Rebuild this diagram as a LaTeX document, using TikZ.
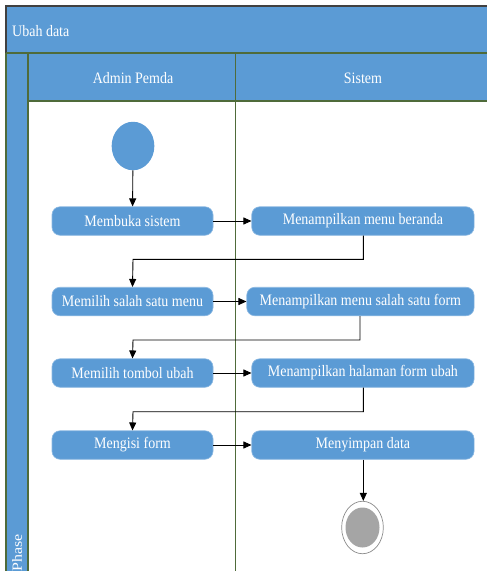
\documentclass[tikz,border=0pt]{standalone}
\usepackage{fontspec}
\setmainfont{Liberation Serif}
\usepackage{graphicx}
\usetikzlibrary{arrows.meta,shapes.geometric}
\definecolor{bl}{HTML}{5B9BD5}
\definecolor{gl}{HTML}{4F6B3A}
\definecolor{endgray}{HTML}{A5A5A5}
\newcommand{\vs}[1]{\scalebox{1}[1.14]{#1}}
\begin{document}
\begin{tikzpicture}[x=1pt,y=-1pt,
  act/.style={rectangle, rounded corners=8pt, fill=bl, draw=bl!70!white, line width=0.6pt,
    text=white, font=\fontsize{14}{16}\selectfont, minimum height=28.5pt, inner sep=0pt},
  hdr/.style={text=white, font=\fontsize{14}{16}\selectfont, inner sep=0pt},
  flow/.style={draw=black, line width=0.9pt, -{Triangle[length=8pt,width=7pt]}},
  frame/.style={draw=gl, line width=1.1pt}]
\useasboundingbox (0,0) rectangle (487,571);
% title band
\fill[bl] (6,6) rectangle (490,53);
\draw[line width=1.3pt, black!75] (490,6) -- (6,6) -- (6,53);
\node[hdr, anchor=west] (title) at (12,31) {\vs{Ubah data}};
% phase strip
\fill[bl] (6,53) rectangle (28,575);
% lane headers
\fill[bl] (28,53) rectangle (490,101);
\fill[white] (28,101) rectangle (490,575);
\draw[frame] (6,53) -- (490,53);
\draw[frame] (6,53) -- (6,575);
\draw[frame] (28,53) -- (28,575);
\draw[frame] (28,101) -- (490,101);
\draw[line width=0.8pt, draw=gl] (235,53) -- (235,575);
\node[hdr] (lane1) at (133,78) {\vs{Admin Pemda}};
\node[hdr] (lane2) at (363,78) {\vs{Sistem}};
\node[hdr, rotate=90, anchor=west] (phase) at (17,572) {\scalebox{1.14}[1]{Phase}};
% start / end
\node[ellipse, fill=bl, minimum width=42.7pt, minimum height=48.5pt, inner sep=0pt] (start) at (133,146) {};
\node[ellipse, fill=white, draw=black!45, line width=0.7pt, minimum width=41.7pt, minimum height=52.5pt, inner sep=0pt] (end) at (362.5,527.5) {};
\node[ellipse, fill=endgray, minimum width=34pt, minimum height=40pt, inner sep=0pt] (endin) at (end.center) {};
% activities
\node[act, minimum width=161pt] (a1) at (132.5,221) {\vs{Membuka sistem}};
\node[act, minimum width=222.3pt] (b1) at (362.9,221) {\vs{Menampilkan menu beranda}};
\node[act, minimum width=161pt] (a2) at (132.5,301.5) {\vs{Memilih salah satu menu}};
\node[act, minimum width=227.3pt] (b2) at (360.4,301.5) {\vs{Menampilkan menu salah satu form}};
\node[act, minimum width=161pt] (a3) at (132.5,373) {\vs{Memilih tombol ubah}};
\node[act, minimum width=222.3pt] (b3) at (362.9,373) {\vs{Menampilkan halaman form ubah}};
\node[act, minimum width=161pt] (a4) at (132.5,445) {\vs{Mengisi form}};
\node[act, minimum width=222.3pt] (b4) at (362.9,445) {\vs{Menyimpan data}};
% connectors
\draw[flow] (start) -- (a1);
\draw[flow] (a1) -- (b1);
\draw[flow] (b1.south -| 363.3,0) |- (133,259.3) -- (a2.north);
\draw[flow] (a2) -- (b2);
\draw[flow] (b2.south -| 360,0) |- (133,340) -- (a3.north);
\draw[flow] (a3) -- (b3);
\draw[flow] (b3.south -| 363.3,0) |- (133,411.7) -- (a4.north);
\draw[flow] (a4) -- (b4);
\draw[flow] (b4.south -| 363.3,0) -- (end.north -| 363.3,0);
\end{tikzpicture}
\end{document}
